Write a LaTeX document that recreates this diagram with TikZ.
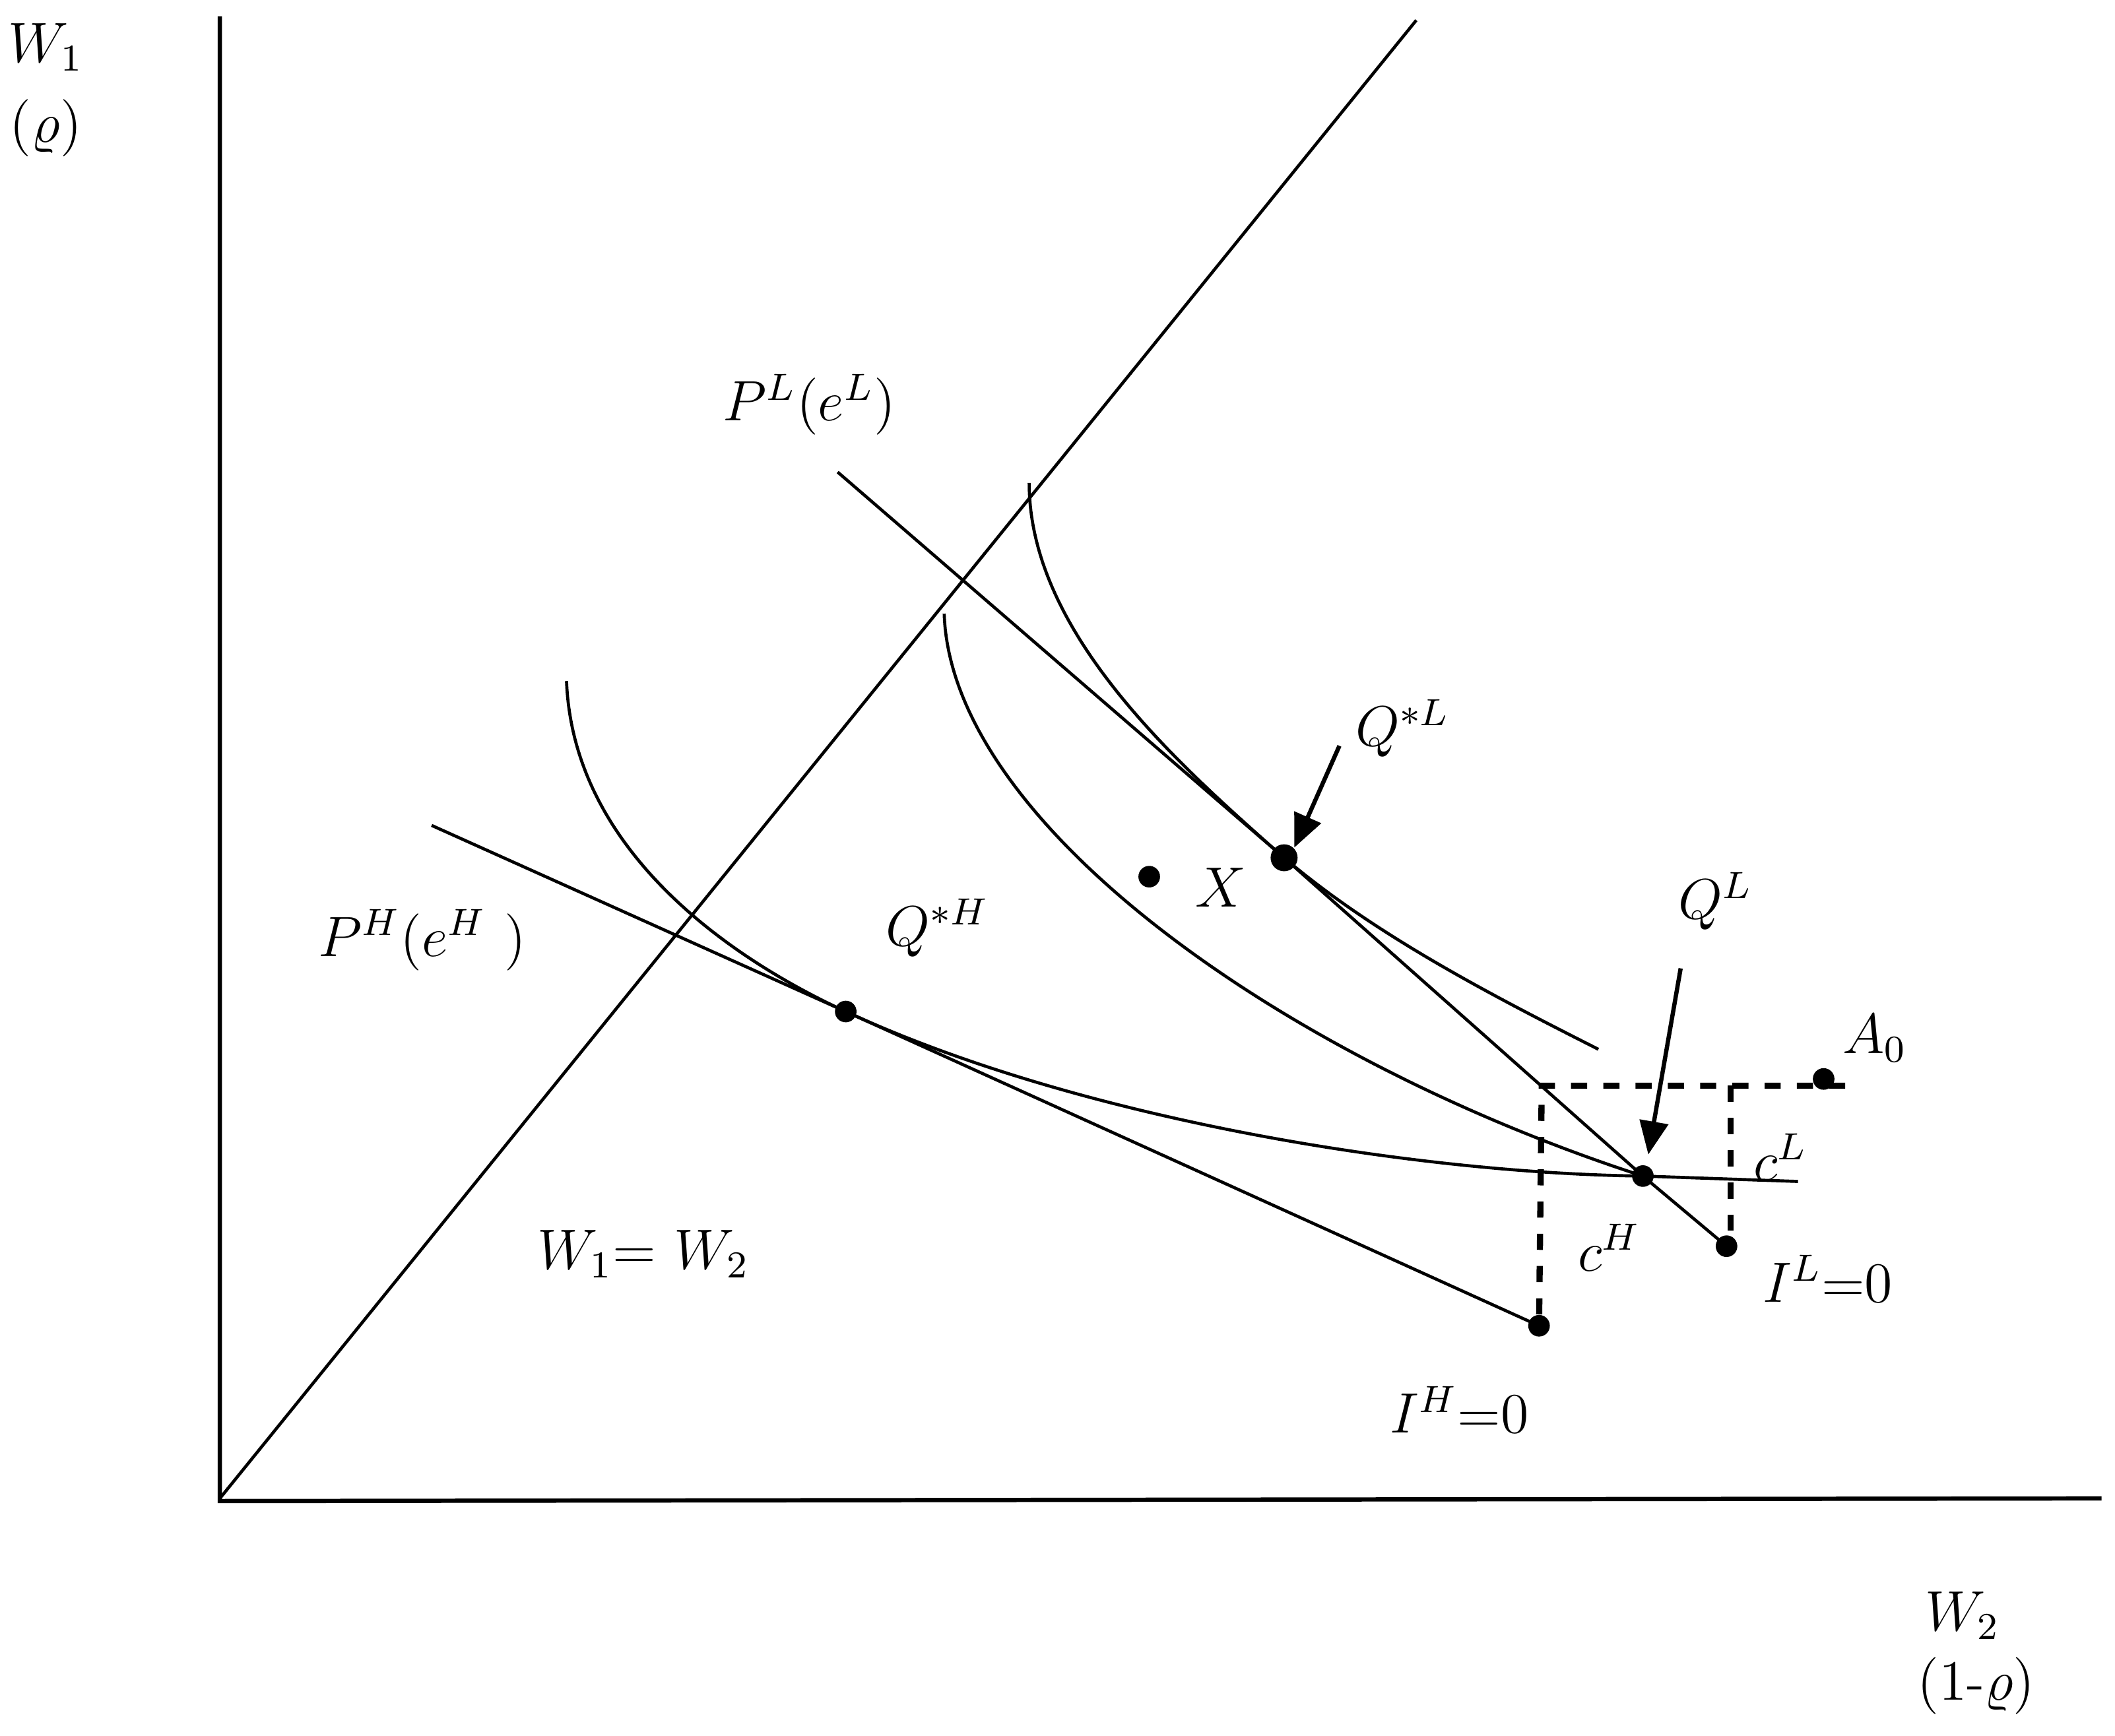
\documentclass[tikz,border=0pt]{standalone}
\usetikzlibrary{arrows.meta}
\begin{document}
\begin{tikzpicture}[x=0.01cm,y=-0.01cm,
  lbl/.style={inner sep=0pt,font=\fontsize{11.5}{14}\selectfont},
  ax/.style={line width=0.9pt},
  ln/.style={line width=0.65pt},
  dsh/.style={line width=1.3pt,dash pattern=on 3.4pt off 3.4pt},
  dotc/.style={circle,fill=black,inner sep=0pt,minimum size=0.16cm},
  bigdot/.style={circle,fill=black,inner sep=0pt,minimum size=0.2cm},
  arr/.style={line width=0.9pt,-{Triangle[length=7pt,width=6pt]}}]
\useasboundingbox (0,0) rectangle (1568,1287);
% axes
\coordinate (O) at (163,1111);
\coordinate (Ytop) at (163,12);
\coordinate (Xend) at (1558,1111);
\coordinate (Dend) at (1050,15);
\draw[ax] (Ytop) -- (163,1113) -- (Xend);
\draw[ln] (O) -- (Dend);
% points
\coordinate (PLs) at (621,350);
\coordinate (PHs) at (320,612);
\node[bigdot] (QsL) at (952,636) {};
\node[dotc] (QsH) at (627,750) {};
\node[dotc] (QL) at (1218,872) {};
\node[dotc] (IL) at (1280,924) {};
\node[dotc] (IH) at (1141,983) {};
\node[dotc] (X) at (852,650) {};
\node[dotc] (A0) at (1352,800) {};
\coordinate (C1e) at (1185,778);
\coordinate (C2s) at (700,455);
\coordinate (C1s) at (763,358);
\coordinate (CHs) at (420,505);
\coordinate (CHe) at (1333,876);
\coordinate (Dc) at (1143,805);
\coordinate (De) at (1368,805);
\coordinate (Dm) at (1283,805);
\coordinate (Dmb) at (1283,922);
% budget lines
\draw[ln] (PLs) -- (QsL.center) -- (QL.center) -- (IL.center);
\draw[ln] (PHs) -- (QsH.center) -- (IH.center);
% indifference curves
\draw[ln] (C1s) .. controls (763,470) and (875,568) .. (QsL.center)
  .. controls (1020,694) and (1110,740) .. (C1e);
\draw[ln] (C2s) .. controls (705,610) and (950,785) .. (QL.center);
\draw[ln] (CHs) .. controls (425,630) and (540,710) .. (QsH.center)
  .. controls (800,830) and (1050,870) .. (QL.center) -- (CHe);
% dashed box
\draw[dsh] (De) -- (Dc) -- (IH.center);
\draw[dsh] (Dm) -- (Dmb);
% arrows
\coordinate (a1) at (993,553);
\coordinate (a2) at (1246,718);
\draw[arr] (a1) -- (QsL.north east);
\draw[arr] (a2) -- (1222,856);
% labels
\node[lbl] (lW1) at (34,35) {$W_1$};
\node[lbl] (lrho) at (34,95) {$(\varrho)$};
\node[lbl] (lW2) at (1455,1198) {$W_2$};
\node[lbl] (lrho2) at (1465,1250) {$(1\mbox{-}\varrho)$};
\node[lbl] (lPL) at (600,300) {$P^L(e^L)$};
\node[lbl] (lQsL) at (1040,540) {$Q^{*L}$};
\node[lbl] (lX) at (905,658) {$X$};
\node[lbl] (lQL) at (1272,668) {$Q^L$};
\node[lbl] (lA0) at (1390,770) {$A_0$};
\node[lbl] (lcL) at (1320,858) {$c^L$};
\node[lbl] (lcH) at (1193,925) {$c^H$};
\node[lbl] (lIL) at (1355,948) {$I^L{=}0$};
\node[lbl] (lIH) at (1082,1045) {$I^H{=}0$};
\node[lbl] (lPH) at (313,697) {$P^H(e^H\ )$};
\node[lbl] (lQsH) at (695,688) {$Q^{*H}$};
\node[lbl] (lW12) at (477,930) {$W_1{=}\ W_2$};
\end{tikzpicture}
\end{document}
